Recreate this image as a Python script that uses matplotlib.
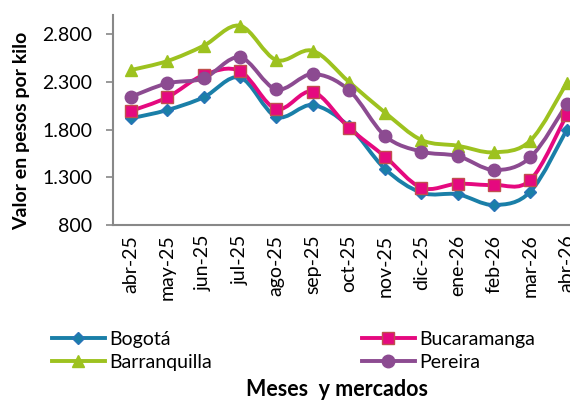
import matplotlib
matplotlib.use('Agg')
import matplotlib.pyplot as plt
import numpy as np
from matplotlib.path import Path
from matplotlib.patches import PathPatch
from matplotlib.lines import Line2D
from matplotlib.ticker import FuncFormatter

meses = ["abr-25", "may-25", "jun-25", "jul-25", "ago-25", "sep-25", "oct-25",
         "nov-25", "dic-25", "ene-26", "feb-26", "mar-26", "abr-26"]

bogota = [1917, 2004, 2137, 2345, 1934, 2056, 1835, 1386, 1138, 1121, 1009, 1149, 1795]
bucaramanga = [1994, 2137, 2370, 2412, 2015, 2196, 1819, 1515, 1190, 1232, 1219, 1271, 1952]
barranquilla = [2423, 2517, 2677, 2887, 2528, 2625, 2300, 1976, 1690, 1630, 1561, 1683, 2286]
pereira = [2143, 2284, 2336, 2556, 2221, 2381, 2214, 1732, 1568, 1522, 1376, 1509, 2064]

series = [
    ("Bogotá", bogota, "#1a7fa8", "D", 6, "#2a74b8"),
    ("Bucaramanga", bucaramanga, "#e5097f", "s", 8, "#c0504d"),
    ("Barranquilla", barranquilla, "#9dc21f", "^", 9, "#9dc21f"),
    ("Pereira", pereira, "#8c4b91", "o", 9, "#8c4b91"),
]

FONT = ['Lato', 'DejaVu Sans']


def smooth_path(x, y, t=1/6):
    # bezier path through the points (catmull-rom style control points)
    pts = np.column_stack([x, y]).astype(float)
    verts = [pts[0]]
    codes = [Path.MOVETO]
    n = len(pts)
    for i in range(n - 1):
        p0 = pts[i - 1] if i > 0 else pts[i]
        p1 = pts[i]
        p2 = pts[i + 1]
        p3 = pts[i + 2] if i + 2 < n else pts[i + 1]
        c1 = p1 + (p2 - p0) * t
        c2 = p2 - (p3 - p1) * t
        verts += [c1, c2, p2]
        codes += [Path.CURVE4] * 3
    return Path(verts, codes)


plt.rcParams['font.family'] = FONT
fig = plt.figure(figsize=(5.7, 4.01), dpi=100)
ax = fig.add_axes([0.198, 0.439, 0.828, 0.5237])

x = np.arange(len(meses))
handles = []
for name, vals, color, mk, ms, edge in series:
    patch = PathPatch(smooth_path(x, vals), fill=False, edgecolor=color,
                      linewidth=2.8, transform=ax.transData, clip_on=False, zorder=2)
    ax.add_patch(patch)
    ax.plot(x, vals, linestyle="none", marker=mk, markersize=ms,
            markerfacecolor=color, markeredgecolor=edge, markeredgewidth=1,
            clip_on=False, zorder=3)
    handles.append(Line2D([], [], color=color, linewidth=2.8, marker=mk,
                          markersize=ms, markerfacecolor=color,
                          markeredgecolor=edge, label=name))

ax.set_xlim(-0.5, 12.5)
ax.set_ylim(800, 3000)
ax.set_yticks([800, 1300, 1800, 2300, 2800])
ax.yaxis.set_major_formatter(FuncFormatter(lambda v, p: f"{int(v):,}".replace(",", ".")))
ax.set_xticks(x)
ax.set_xticklabels(meses, rotation=90, fontsize=14)
for lab in ax.get_yticklabels():
    lab.set_fontsize(14)
ax.tick_params(axis='x', length=0, pad=7)
ax.tick_params(axis='y', length=5, color="#888888", width=1.2, pad=10)

for s in ["top", "right"]:
    ax.spines[s].set_visible(False)
for s in ["left", "bottom"]:
    ax.spines[s].set_color("#888888")
    ax.spines[s].set_linewidth(1.5)

ax.set_ylabel("Valor en pesos por kilo", fontsize=14, fontweight="bold", labelpad=2)
ax.yaxis.set_label_coords(-0.175, 0.45)

leg_kw = dict(loc="upper left", frameon=False, fontsize=14, handlelength=2.7,
              labelspacing=0.32, handletextpad=0.25, borderpad=0, borderaxespad=0)
leg1 = fig.legend(handles=[handles[0], handles[2]],
                  bbox_to_anchor=(52 / 570, 1 - 331 / 401), **leg_kw)
leg2 = fig.legend(handles=[handles[1], handles[3]],
                  bbox_to_anchor=(362 / 570, 1 - 331 / 401), **leg_kw)

fig.text(337 / 570, 1 - 390 / 401, "Meses  y mercados", ha="center", va="center",
         fontsize=15.5, fontweight="bold")

fig.savefig("out.png", dpi=100)
